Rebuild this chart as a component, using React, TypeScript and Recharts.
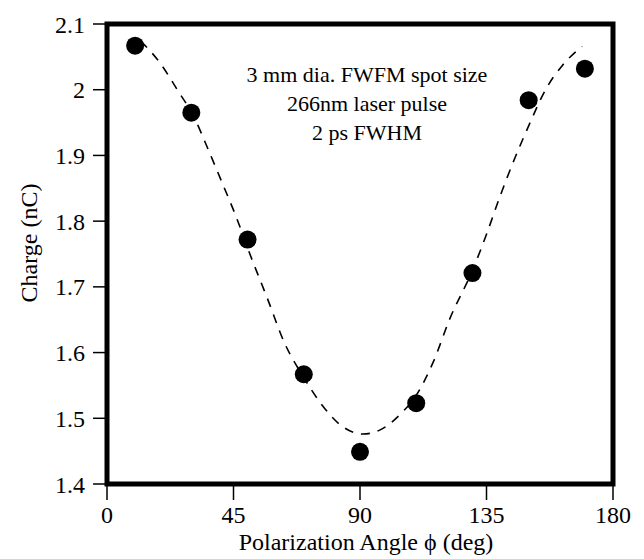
import { ComposedChart, Line, Scatter, XAxis, YAxis, ReferenceArea, Text } from "recharts"

// measured points (deg, nC)
const angles = [10, 30, 50, 70, 90, 110, 130, 150, 170]
const charge = [2.067, 1.965, 1.772, 1.567, 1.449, 1.523, 1.721, 1.984, 2.032]

// dashed fit curve
const fitAngles = [12, 19, 25, 31, 36, 41, 46, 51, 57, 63, 70, 76, 83, 91, 97, 105, 110, 116, 122, 130, 135, 140, 145, 150, 156, 162, 169]
const fitCharge = [2.074, 2.04, 2.0, 1.958, 1.909, 1.858, 1.806, 1.748, 1.683, 1.616, 1.562, 1.523, 1.49, 1.476, 1.482, 1.509, 1.535, 1.585, 1.652, 1.725, 1.78, 1.84, 1.895, 1.945, 2.0, 2.037, 2.066]

const xMajor = [0, 45, 90, 135, 180]
const xMinor = [11.25, 22.5, 33.75, 56.25, 67.5, 78.75, 101.25, 112.5, 123.75, 146.25, 157.5, 168.75]
const yMajor = [1.4, 1.5, 1.6, 1.7, 1.8, 1.9, 2.0, 2.1]
const yMinor = [
  1.42, 1.44, 1.46, 1.48, 1.52, 1.54, 1.56, 1.58, 1.62, 1.64, 1.66, 1.68,
  1.72, 1.74, 1.76, 1.78, 1.82, 1.84, 1.86, 1.88, 1.92, 1.94, 1.96, 1.98,
  2.02, 2.04, 2.06, 2.08,
]

const annotation = ["3 mm dia. FWFM spot size", "266nm laser pulse", "2 ps FWHM"]

const pointData = angles.map((a, i) => ({ angle: a, charge: charge[i] }))
const fitData = fitAngles.map((a, i) => ({ angle: a, charge: fitCharge[i] }))

const serif = "Liberation Serif"
const labelStyle = { fontSize: 24, fontFamily: serif, fill: "#000" }
const tl = { stroke: "#000", strokeWidth: 1.5 }
const xDom: [number, number] = [0, 180]
const yDom: [number, number] = [1.4, 2.1]

export default function App() {
  return (
    <div>
      <ComposedChart width={636} height={551} margin={{ top: 0, right: 0, bottom: 0, left: 0 }}>
        {/* bottom: labels + outer half of major ticks */}
        <XAxis xAxisId="b" dataKey="angle" type="number" domain={xDom} ticks={xMajor} interval={0}
          height={75} stroke="#000" axisLine={false} tickLine={tl} tickSize={16} tickMargin={6} tick={labelStyle} />
        <XAxis xAxisId="b2" type="number" domain={xDom} ticks={xMajor} interval={0} mirror
          stroke="#000" axisLine={false} tickLine={tl} tickSize={15} tick={false} />
        <XAxis xAxisId="b3" type="number" domain={xDom} ticks={xMinor} interval={0} mirror
          stroke="#000" axisLine={false} tickLine={tl} tickSize={8} tick={false} />
        {/* top */}
        <XAxis xAxisId="t" orientation="top" type="number" domain={xDom} ticks={xMajor} interval={0}
          height={16} stroke="#000" axisLine={false} tickLine={tl} tickSize={16} tick={false} />
        <XAxis xAxisId="t2" orientation="top" type="number" domain={xDom} ticks={xMajor} interval={0} mirror
          stroke="#000" axisLine={false} tickLine={tl} tickSize={18} tick={false} />
        <XAxis xAxisId="t3" orientation="top" type="number" domain={xDom} ticks={xMinor} interval={0} mirror
          stroke="#000" axisLine={false} tickLine={tl} tickSize={9} tick={false} />
        {/* left */}
        <YAxis yAxisId="l" type="number" domain={yDom} ticks={yMajor} interval={0}
          width={99} stroke="#000" axisLine={false} tickLine={tl} tickSize={14} tickMargin={8} tick={labelStyle} />
        <YAxis yAxisId="l2" type="number" domain={yDom} ticks={yMajor} interval={0} mirror
          stroke="#000" axisLine={false} tickLine={tl} tickSize={19} tick={false} />
        <YAxis yAxisId="l3" type="number" domain={yDom} ticks={yMinor} interval={0} mirror
          stroke="#000" axisLine={false} tickLine={tl} tickSize={12} tick={false} />
        {/* right */}
        <YAxis yAxisId="r" orientation="right" type="number" domain={yDom} ticks={yMajor} interval={0}
          width={31} stroke="#000" axisLine={false} tickLine={tl} tickSize={16} tick={false} />
        <YAxis yAxisId="r2" orientation="right" type="number" domain={yDom} ticks={yMajor} interval={0} mirror
          stroke="#000" axisLine={false} tickLine={tl} tickSize={12} tick={false} />
        <YAxis yAxisId="r3" orientation="right" type="number" domain={yDom} ticks={yMinor} interval={0} mirror
          stroke="#000" axisLine={false} tickLine={tl} tickSize={8} tick={false} />
        <Line
          xAxisId="b"
          yAxisId="l"
          data={fitData}
          dataKey="charge"
          type="monotone"
          stroke="#000"
          strokeWidth={1.6}
          strokeDasharray="9 8"
          dot={false}
          activeDot={false}
          isAnimationActive={false}
        />
        <Scatter
          xAxisId="b"
          yAxisId="l"
          data={pointData}
          dataKey="charge"
          fill="#000"
          shape={(p: any) => <circle cx={p.cx} cy={p.cy} r={9} fill="#000" />}
          isAnimationActive={false}
        />
        <ReferenceArea
          xAxisId="b"
          yAxisId="l"
          x1={0}
          x2={180}
          y1={1.4}
          y2={2.1}
          fill="none"
          stroke="#000"
          strokeWidth={5}
        />
        <Text x={358} y={542} textAnchor="middle" {...labelStyle}>
          Polarization Angle ϕ (deg)
        </Text>
        <Text x={29} y={235} textAnchor="middle" angle={-90} {...labelStyle}>
          Charge (nC)
        </Text>
        {annotation.map((line, i) => (
          <Text key={line} x={359} y={74 + i * 29} textAnchor="middle" {...labelStyle} fontSize={22}>
            {line}
          </Text>
        ))}
      </ComposedChart>
    </div>
  )
}
